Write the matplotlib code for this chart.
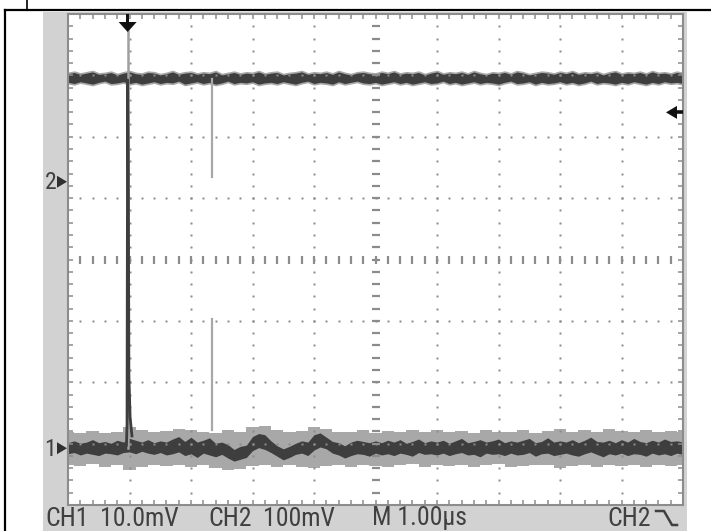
import numpy as np
import matplotlib
matplotlib.use("Agg")
import matplotlib.pyplot as plt
from matplotlib.patches import Rectangle, Polygon

# time base: 1 us/div, 10 divisions, one reading every 0.1 us
t = np.linspace(0, 10, 101)
t_env = np.linspace(0, 10, 51)

# CH1 (10 mV/div) - noise band around ground, mV (upper / lower edge)
ch1_hi = [0.9, 1.2, 0.8, 1.0, 1.4, 0.9, 1.1, 0.8, 1.3, 1.0,
          1.6, 1.3, 1.0, 1.4, 0.9, 1.2, 1.0, 1.5, 1.9, 1.1,
          1.8, 1.0, 1.3, 1.7, 0.8, 1.0, 0.6, -0.2, 0.3, 0.5,
          1.9, 2.4, 2.2, 1.2, 0.4, -0.1, 0.3, 0.8, 1.2, 1.0,
          2.2, 2.5, 1.8, 1.1, 0.9, 0.4, 1.0, 1.3, 1.1, 0.9,
          1.2, 0.9, 1.3, 1.0, 1.4, 0.8, 1.1, 1.5, 0.9, 1.2,
          1.0, 1.3, 0.8, 1.2, 1.6, 0.9, 1.1, 1.4, 1.0, 1.2,
          1.5, 0.9, 1.2, 1.0, 1.3, 1.6, 0.9, 1.1, 1.7, 1.0,
          1.2, 1.0, 1.4, 0.9, 1.3, 1.8, 1.1, 1.0, 1.3, 0.9,
          1.4, 1.0, 1.6, 1.1, 0.9, 1.3, 1.0, 1.5, 1.1, 1.2, 1.0]
ch1_lo = [-0.9, -0.7, -1.1, -0.8, -1.0, -1.2, -0.8, -0.9, -1.1, -0.7,
          -0.6, -0.9, -0.5, -0.8, -1.0, -0.7, -1.1, -0.9, -0.6, -1.2,
          -0.9, -1.5, -0.8, -1.1, -1.4, -1.0, -1.6, -2.1, -1.8, -1.5,
          -0.4, 0.1, -0.2, -0.7, -1.3, -1.9, -1.5, -1.0, -0.8, -1.2,
          -0.3, 0.2, -0.1, -0.8, -1.1, -1.6, -1.2, -0.9, -1.0, -1.3,
          -0.8, -1.1, -0.9, -1.2, -0.8, -1.0, -1.3, -0.7, -1.0, -0.9,
          -1.1, -0.8, -1.2, -0.9, -0.7, -1.1, -1.0, -1.4, -0.8, -1.0,
          -0.9, -1.2, -0.8, -1.1, -1.0, -0.7, -1.3, -0.9, -0.8, -1.2,
          -1.0, -0.8, -1.1, -1.3, -0.9, -0.6, -1.0, -1.4, -0.9, -1.1,
          -0.8, -1.2, -0.9, -1.0, -1.3, -0.8, -1.1, -0.9, -1.2, -0.8, -1.0]

# CH1 persistence envelope (every 0.2 us), mV
ch1_env_hi = [2.6, 2.4, 2.8, 2.5, 2.7, 3.4, 2.9, 2.6, 2.8, 3.2,
              3.0, 2.7, 2.5, 2.9, 2.6, 3.4, 3.6, 3.0, 2.7, 2.8,
              3.5, 3.2, 2.7, 2.6, 2.9, 2.5, 2.8, 2.6, 3.0, 2.7,
              2.9, 2.6, 2.8, 2.5, 3.0, 2.7, 2.6, 2.9, 2.5, 2.8,
              3.1, 2.7, 2.9, 2.6, 3.2, 2.8, 2.6, 2.9, 2.7, 2.8, 2.6]
ch1_env_lo = [-2.7, -2.9, -2.6, -3.0, -2.8, -3.6, -3.0, -2.7, -2.9, -2.8,
              -3.1, -2.7, -3.2, -3.6, -3.4, -2.9, -2.8, -3.1, -2.7, -3.0,
              -3.3, -2.9, -2.8, -3.0, -2.7, -2.9, -3.1, -2.8, -2.6, -3.0,
              -2.8, -2.9, -2.7, -3.1, -2.8, -2.6, -3.0, -2.9, -2.7, -2.8,
              -3.2, -2.9, -2.7, -3.0, -2.8, -2.9, -2.7, -3.1, -2.8, -2.9, -2.7]

# CH1 spike at the trigger
spike_t = [0.95, 0.96, 0.97, 0.98, 0.99, 1.01, 1.04]
spike_mv = [0.5, 4, 60, 48, 12, 5, 2]
spike_persist_mv = 68

# CH2 (100 mV/div) - noise band, mV (upper / lower edge)
ch2_hi = [176, 178, 175, 177, 179, 175, 176, 178, 174, 177,
          179, 176, 175, 178, 177, 174, 176, 179, 175, 177,
          178, 175, 177, 176, 179, 174, 176, 178, 175, 177,
          176, 179, 175, 177, 178, 174, 176, 177, 179, 175,
          177, 176, 178, 175, 179, 176, 174, 177, 178, 176,
          175, 178, 176, 179, 175, 177, 176, 178, 174, 177,
          179, 175, 177, 176, 178, 175, 179, 176, 174, 177,
          176, 178, 175, 179, 177, 174, 176, 178, 177, 175,
          178, 176, 179, 175, 177, 176, 178, 174, 177, 179,
          175, 177, 176, 178, 175, 179, 176, 177, 175, 178, 176]
ch2_lo = [162, 160, 163, 161, 159, 162, 164, 160, 161, 163,
          160, 162, 159, 161, 163, 160, 162, 161, 164, 159,
          161, 163, 160, 162, 159, 161, 164, 160, 162, 161,
          163, 159, 161, 162, 160, 163, 161, 159, 162, 164,
          160, 162, 161, 159, 163, 160, 162, 164, 161, 160,
          162, 159, 161, 163, 160, 162, 159, 161, 163, 160,
          161, 164, 160, 162, 159, 161, 163, 160, 162, 161,
          159, 162, 164, 160, 161, 163, 159, 162, 160, 161,
          163, 160, 162, 159, 161, 164, 160, 162, 161, 159,
          162, 160, 163, 161, 159, 162, 160, 163, 161, 162, 160]

# persistence glitches (light traces)
glitch_t = 2.34
ch2_glitch_mv = [168, 7]
ch1_glitch_mv = [3, 21]

trig_t = 0.97
trig_level_mv = 113

ch1_scale, ch2_scale = 10.0, 100.0
ch1_ground, ch2_ground = -3.075, 1.267   # in divisions

labels = ['CH1', '10.0mV', 'CH2', '100mV', 'M 1.00\u00b5s', 'CH2']
label_x = [45, 100, 208, 263, 372, 607]

dark = '#3e3e3e'
light = '#a8a8a8'
panel = '#d2d2d2'
gridc = '#8c8c8c'
txtc = '#404040'
font = ['Roboto Condensed', 'Liberation Sans Narrow', 'Roboto']

W, H = 711, 531
fig = plt.figure(figsize=(W / 100, H / 100), dpi=100)
fig.patch.set_facecolor('white')

# background layer in pixel units
bg = fig.add_axes([0, 0, 1, 1])
bg.set_xlim(0, W)
bg.set_ylim(H, 0)
bg.axis('off')
bg.add_patch(Rectangle((43, 12), 644, 519, color=panel, lw=0))
bg.plot([5, W], [10, 10], color='black', lw=1.6)
bg.plot([5, 5], [10, H], color='black', lw=1.6)
bg.plot([27, 27], [0, 10], color='black', lw=1.2)

# graticule
ax = fig.add_axes([68 / W, (H - 505) / H, 615 / W, 491 / H])
ax.set_xlim(0, 10)
ax.set_ylim(-4, 4)
ax.set_facecolor('white')
for s in ax.spines.values():
    s.set_color(gridc)
    s.set_linewidth(1.5)
ax.set_xticks(np.arange(0, 10.01, 0.2))
ax.set_yticks(np.arange(-4, 4.01, 0.2))
ax.tick_params(direction='in', length=3.6, width=1.1, color=gridc,
               top=True, right=True, labelbottom=False, labelleft=False)

ys = np.arange(-3.8, 3.9, 0.2)
xs = np.arange(0.2, 9.9, 0.2)
for gx in [1, 2, 3, 4, 6, 7, 8, 9]:
    ax.plot(np.full_like(ys, gx), ys, ls='none', marker='s', ms=1.7,
            color=gridc, mec='none')
for gy in [-3, -2, -1, 1, 2, 3]:
    ax.plot(xs, np.full_like(xs, gy), ls='none', marker='s', ms=1.7,
            color=gridc, mec='none')
ax.plot(np.full_like(ys, 5), ys, ls='none', marker='_', ms=5.5, mew=1.6, color=gridc)
ax.plot(xs, np.zeros_like(xs), ls='none', marker='|', ms=5.5, mew=1.6, color=gridc)

# traces
g1, g2 = ch1_ground, ch2_ground
ax.fill_between(t_env, g1 + np.array(ch1_env_lo) / ch1_scale,
                g1 + np.array(ch1_env_hi) / ch1_scale,
                step='mid', color=light, lw=0)
# CH2 light persistence halo
ax.fill_between(t, g2 + np.array(ch2_lo) / ch2_scale, g2 + np.array(ch2_hi) / ch2_scale,
                facecolor=light, edgecolor=light, lw=2.4)
ax.plot([trig_t, trig_t], [g1, g1 + spike_persist_mv / ch1_scale], color='#a0a0a0', lw=1.8)
ax.plot([glitch_t, glitch_t], g2 + np.array(ch2_glitch_mv) / ch2_scale, color=light, lw=1.6)
ax.plot([glitch_t, glitch_t], g1 + np.array(ch1_glitch_mv) / ch1_scale, color=light, lw=1.6)
ax.fill_between(t, g2 + np.array(ch2_lo) / ch2_scale, g2 + np.array(ch2_hi) / ch2_scale,
                color=dark, lw=0)
ax.fill_between(t, g1 + np.array(ch1_lo) / ch1_scale, g1 + np.array(ch1_hi) / ch1_scale,
                color=dark, lw=0)
ax.plot(spike_t, g1 + np.array(spike_mv) / ch1_scale, color=dark, lw=2.0)

# overlay layer for markers and readouts
ov = fig.add_axes([0, 0, 1, 1])
ov.set_xlim(0, W)
ov.set_ylim(H, 0)
ov.axis('off')
ov.patch.set_alpha(0)


def to_px(x, y):
    px, py = ax.transData.transform((x, y))
    return px, H - py


# trigger position (top) and level (right) arrows
tx, _ = to_px(trig_t, 0)
ov.add_patch(Rectangle((tx - 1.2, 14), 2.4, 9, color='#111111', lw=0))
ov.add_patch(Polygon([(tx - 9, 22), (tx + 9, 22), (tx, 32)], color='#111111', lw=0))
_, ly = to_px(0, g2 + trig_level_mv / ch2_scale)
ov.add_patch(Polygon([(666, ly), (677, ly - 6.5), (677, ly + 6.5)], color='#111111', lw=0))
ov.plot([675, 683], [ly, ly], color='#111111', lw=2.6, solid_capstyle='butt')

# channel ground markers
for name, g in [('1', g1), ('2', g2)]:
    _, gy = to_px(0, g)
    ov.add_patch(Polygon([(57, gy - 6), (57, gy + 6), (67, gy)], color='#303030', lw=0))
    ov.text(56, gy + 1, name, ha='right', va='center', fontsize=17,
            color=txtc, family=font)

# readout line
for s, x in zip(labels, label_x):
    ov.text(x, 530.5, s, ha='left', va='bottom', fontsize=18.5, color=txtc, family=font)
ov.plot([656, 664, 672, 677], [511, 511, 525, 525], color=txtc, lw=1.8)

fig.savefig('out.png', dpi=100)
